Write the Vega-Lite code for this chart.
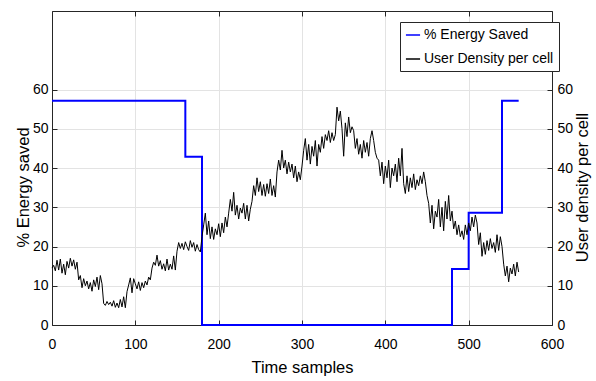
{
  "$schema": "https://vega.github.io/schema/vega-lite/v6.json",
  "width": 500,
  "height": 314,
  "autosize": "none",
  "padding": {"left": 52, "top": 11, "right": 44, "bottom": 56},
  "background": "white",
  "config": {
    "view": {"stroke": null},
    "font": "'Liberation Sans', Arial, sans-serif",
    "axis": {
      "labelFont": "'Liberation Sans', Arial, sans-serif",
      "titleFont": "'Liberation Sans', Arial, sans-serif",
      "labelFontSize": 14,
      "titleFontSize": 16.5,
      "titleFontWeight": "normal",
      "labelColor": "#000000",
      "titleColor": "#000000",
      "domainColor": "#262626",
      "tickColor": "#262626",
      "tickSize": -5,
      "gridColor": "#e3e3e3",
      "labelFlush": false,
      "labelOverlap": false
    },
    "legend": {
      "labelFont": "'Liberation Sans', Arial, sans-serif",
      "labelFontSize": 14,
      "labelColor": "#000000"
    }
  },
  "datasets": {
    "saved": [
      {"t": 0, "v": 57.14},
      {"t": 160, "v": 42.86},
      {"t": 180, "v": 0},
      {"t": 480, "v": 14.29},
      {"t": 500, "v": 28.57},
      {"t": 540, "v": 57.14},
      {"t": 560, "v": 57.14}
    ],
    "density": [
      {"t":0,"u":14.5},{"t":2,"u":15.2},{"t":4,"u":13.8},{"t":6,"u":16.5},{"t":8,"u":14.0},{"t":10,"u":16.8},{"t":12,"u":13.2},{"t":14,"u":15.5},{"t":16,"u":12.8},{"t":18,"u":16.2},{"t":20,"u":14.5},{"t":22,"u":17.0},{"t":24,"u":15.0},{"t":26,"u":16.6},{"t":28,"u":14.2},{"t":30,"u":16.0},
      {"t":32,"u":11.5},{"t":34,"u":12.6},{"t":36,"u":9.5},{"t":38,"u":11.8},{"t":40,"u":10.0},{"t":42,"u":11.2},{"t":44,"u":9.2},{"t":46,"u":10.8},{"t":48,"u":8.6},{"t":50,"u":11.5},{"t":52,"u":9.8},{"t":54,"u":12.2},{"t":56,"u":9.0},{"t":58,"u":12.6},{"t":60,"u":10.5},
      {"t":62,"u":5.5},{"t":64,"u":5.0},{"t":66,"u":6.0},{"t":68,"u":5.2},{"t":70,"u":5.8},{"t":72,"u":4.8},{"t":74,"u":6.2},{"t":76,"u":4.5},{"t":78,"u":5.6},{"t":80,"u":4.4},{"t":82,"u":6.5},{"t":84,"u":4.6},{"t":86,"u":7.2},{"t":88,"u":4.4},{"t":90,"u":8.5},
      {"t":92,"u":10.2},{"t":94,"u":12.0},{"t":96,"u":8.2},{"t":98,"u":11.8},{"t":100,"u":10.5},{"t":102,"u":9.2},{"t":104,"u":11.0},{"t":106,"u":8.8},{"t":108,"u":10.8},{"t":110,"u":9.5},{"t":112,"u":11.2},{"t":114,"u":10.2},{"t":116,"u":12.2},{"t":118,"u":11.5},{"t":120,"u":14.5},
      {"t":122,"u":16.0},{"t":124,"u":15.2},{"t":126,"u":17.8},{"t":128,"u":15.0},{"t":130,"u":16.4},{"t":132,"u":14.2},{"t":134,"u":15.6},{"t":136,"u":13.8},{"t":138,"u":16.8},{"t":140,"u":14.0},{"t":142,"u":15.5},{"t":144,"u":14.2},{"t":146,"u":17.6},{"t":148,"u":14.0},{"t":150,"u":18.8},
      {"t":152,"u":21.0},{"t":154,"u":19.5},{"t":156,"u":20.8},{"t":158,"u":19.2},{"t":160,"u":21.2},{"t":162,"u":20.0},{"t":164,"u":19.0},{"t":166,"u":21.5},{"t":168,"u":19.8},{"t":170,"u":21.0},{"t":172,"u":18.8},{"t":174,"u":20.5},{"t":176,"u":19.2},{"t":178,"u":18.6},{"t":180,"u":22.5},
      {"t":182,"u":25.5},{"t":184,"u":28.5},{"t":186,"u":23.0},{"t":188,"u":26.5},{"t":190,"u":22.0},{"t":192,"u":25.0},{"t":194,"u":21.8},{"t":196,"u":24.5},{"t":198,"u":23.0},{"t":200,"u":25.8},{"t":202,"u":22.5},{"t":204,"u":26.0},{"t":206,"u":23.5},{"t":208,"u":27.5},{"t":210,"u":25.0},
      {"t":212,"u":28.5},{"t":214,"u":32.0},{"t":216,"u":29.0},{"t":218,"u":33.8},{"t":220,"u":28.0},{"t":222,"u":30.5},{"t":224,"u":27.0},{"t":226,"u":29.8},{"t":228,"u":28.5},{"t":230,"u":31.0},{"t":232,"u":27.0},{"t":234,"u":30.5},{"t":236,"u":26.5},{"t":238,"u":29.5},{"t":240,"u":31.5},
      {"t":242,"u":35.5},{"t":244,"u":33.0},{"t":246,"u":37.5},{"t":248,"u":34.0},{"t":250,"u":36.5},{"t":252,"u":33.0},{"t":254,"u":35.8},{"t":256,"u":32.8},{"t":258,"u":36.0},{"t":260,"u":33.5},{"t":262,"u":37.2},{"t":264,"u":33.0},{"t":266,"u":35.5},{"t":268,"u":32.6},{"t":270,"u":39.0},
      {"t":272,"u":42.0},{"t":274,"u":39.5},{"t":276,"u":44.5},{"t":278,"u":40.0},{"t":280,"u":42.0},{"t":282,"u":38.5},{"t":284,"u":41.5},{"t":286,"u":39.0},{"t":288,"u":41.0},{"t":290,"u":37.5},{"t":292,"u":40.5},{"t":294,"u":36.5},{"t":296,"u":39.0},{"t":298,"u":37.0},{"t":300,"u":40.5},
      {"t":302,"u":44.5},{"t":304,"u":47.5},{"t":306,"u":42.0},{"t":308,"u":46.0},{"t":310,"u":41.0},{"t":312,"u":45.5},{"t":314,"u":43.0},{"t":316,"u":47.0},{"t":318,"u":40.5},{"t":320,"u":46.0},{"t":322,"u":44.0},{"t":324,"u":48.0},{"t":326,"u":45.0},{"t":328,"u":48.5},{"t":330,"u":47.0},
      {"t":332,"u":49.5},{"t":334,"u":46.5},{"t":336,"u":49.0},{"t":338,"u":47.0},{"t":340,"u":48.5},{"t":342,"u":55.5},{"t":344,"u":52.0},{"t":346,"u":54.5},{"t":348,"u":50.0},{"t":350,"u":43.0},{"t":352,"u":51.5},{"t":354,"u":48.0},{"t":356,"u":53.0},{"t":358,"u":49.0},{"t":360,"u":50.5},
      {"t":362,"u":49.5},{"t":364,"u":45.0},{"t":366,"u":47.5},{"t":368,"u":43.5},{"t":370,"u":46.0},{"t":372,"u":42.5},{"t":374,"u":47.0},{"t":376,"u":44.0},{"t":378,"u":46.5},{"t":380,"u":43.0},{"t":382,"u":47.5},{"t":384,"u":49.5},{"t":386,"u":47.0},{"t":388,"u":44.0},{"t":390,"u":42.5},
      {"t":392,"u":42.0},{"t":394,"u":38.0},{"t":396,"u":41.5},{"t":398,"u":36.0},{"t":400,"u":40.5},{"t":402,"u":37.5},{"t":404,"u":42.0},{"t":406,"u":35.0},{"t":408,"u":40.0},{"t":410,"u":38.0},{"t":412,"u":41.0},{"t":414,"u":36.5},{"t":416,"u":42.5},{"t":418,"u":38.0},{"t":420,"u":45.0},
      {"t":422,"u":36.0},{"t":424,"u":33.5},{"t":426,"u":38.0},{"t":428,"u":34.0},{"t":430,"u":37.5},{"t":432,"u":35.0},{"t":434,"u":38.5},{"t":436,"u":34.5},{"t":438,"u":37.0},{"t":440,"u":35.5},{"t":442,"u":38.0},{"t":444,"u":36.0},{"t":446,"u":39.0},{"t":448,"u":36.5},{"t":450,"u":33.0},
      {"t":452,"u":31.0},{"t":454,"u":26.0},{"t":456,"u":30.5},{"t":458,"u":24.5},{"t":460,"u":29.0},{"t":462,"u":27.5},{"t":464,"u":32.0},{"t":466,"u":25.0},{"t":468,"u":30.0},{"t":470,"u":24.0},{"t":472,"u":31.5},{"t":474,"u":27.0},{"t":476,"u":33.0},{"t":478,"u":26.5},{"t":480,"u":29.0},
      {"t":482,"u":24.5},{"t":484,"u":26.5},{"t":486,"u":23.0},{"t":488,"u":25.5},{"t":490,"u":22.5},{"t":492,"u":24.0},{"t":494,"u":21.8},{"t":496,"u":25.5},{"t":498,"u":23.0},{"t":500,"u":26.0},{"t":502,"u":24.0},{"t":504,"u":27.5},{"t":506,"u":25.0},{"t":508,"u":28.0},{"t":510,"u":26.0},
      {"t":512,"u":20.5},{"t":514,"u":23.5},{"t":516,"u":17.5},{"t":518,"u":21.0},{"t":520,"u":18.0},{"t":522,"u":21.5},{"t":524,"u":19.0},{"t":526,"u":22.0},{"t":528,"u":19.5},{"t":530,"u":21.0},{"t":532,"u":18.5},{"t":534,"u":23.0},{"t":536,"u":19.0},{"t":538,"u":22.5},{"t":540,"u":20.0},
      {"t":542,"u":15.5},{"t":544,"u":12.5},{"t":546,"u":15.0},{"t":548,"u":11.0},{"t":550,"u":14.5},{"t":552,"u":13.0},{"t":554,"u":15.5},{"t":556,"u":12.5},{"t":558,"u":16.0},{"t":560,"u":13.5}
    ]
  },
  "layer": [
    {
      "data": {"name": "saved"},
      "mark": {"type": "line", "interpolate": "step-after", "strokeWidth": 2},
      "encoding": {
        "x": {
          "field": "t", "type": "quantitative",
          "scale": {"domain": [0, 600], "nice": false, "zero": false},
          "axis": {"orient": "bottom", "values": [0, 100, 200, 300, 400, 500, 600], "title": "Time samples", "grid": true, "labelPadding": 17, "titlePadding": 8, "domain": true}
        },
        "y": {
          "field": "v", "type": "quantitative",
          "scale": {"domain": [0, 80], "nice": false},
          "axis": {"orient": "left", "values": [0, 10, 20, 30, 40, 50, 60], "title": "% Energy saved", "grid": true, "labelPadding": 9, "titleX": -24, "titleY": 176, "titleAngle": -90, "titleBaseline": "alphabetic"}
        },
        "color": {
          "datum": "% Energy Saved",
          "type": "nominal",
          "scale": {"domain": ["% Energy Saved", "User Density per cell"], "range": ["#0000ff", "#000000"]},
          "legend": {
            "title": null,
            "orient": "none",
            "legendX": 348,
            "legendY": 11,
            "strokeColor": "#262626",
            "fillColor": "white",
            "padding": 5,
            "rowPadding": 9,
            "symbolType": "stroke",
            "symbolSize": 200,
            "symbolStrokeWidth": 1.5,
            "labelOffset": 3
          }
        }
      }
    },
    {
      "data": {"name": "density"},
      "mark": {"type": "line", "strokeWidth": 1},
      "encoding": {
        "x": {
          "field": "t", "type": "quantitative",
          "axis": {"orient": "top", "values": [0, 100, 200, 300, 400, 500, 600], "labels": false, "title": null, "grid": false, "domain": true}
        },
        "y": {
          "field": "u", "type": "quantitative",
          "scale": {"domain": [0, 80], "nice": false},
          "axis": {"orient": "right", "values": [0, 10, 20, 30, 40, 50, 60], "title": "User density per cell", "grid": false, "labelPadding": 10, "titleX": 35, "titleY": 176, "titleAngle": -90, "titleBaseline": "alphabetic"}
        },
        "color": {"datum": "User Density per cell", "type": "nominal"}
      }
    }
  ],
  "resolve": {"scale": {"y": "independent"}, "axis": {"x": "independent", "y": "independent"}}
}
